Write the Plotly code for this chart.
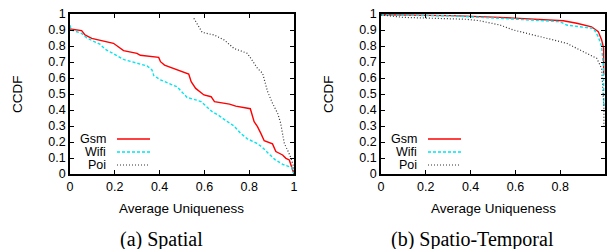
import plotly.graph_objects as go

# ---------------- data ----------------
# (a) Spatial
sp_gsm_x = [0.0, 0.052, 0.067, 0.097, 0.194, 0.217, 0.239, 0.299, 0.314, 0.396, 0.404, 0.422,
            0.530, 0.541, 0.561, 0.598, 0.630, 0.645, 0.712, 0.740, 0.805, 0.822, 0.837, 0.852,
            0.867, 0.904, 0.919, 0.949, 0.964, 0.979, 0.995, 1.0]
sp_gsm_y = [0.906, 0.896, 0.869, 0.848, 0.817, 0.796, 0.771, 0.754, 0.742, 0.729, 0.702, 0.681,
            0.625, 0.577, 0.535, 0.494, 0.483, 0.452, 0.437, 0.424, 0.408, 0.327, 0.296, 0.254,
            0.208, 0.188, 0.140, 0.119, 0.098, 0.088, 0.03, 0.0]
sp_wifi_x = [0.0, 0.005, 0.052, 0.075, 0.135, 0.157, 0.209, 0.239, 0.344, 0.366, 0.374, 0.404,
             0.478, 0.523, 0.565, 0.585, 0.635, 0.665, 0.700, 0.732, 0.762, 0.792, 0.830, 0.856,
             0.885, 0.915, 0.950, 0.990, 1.0]
sp_wifi_y = [0.93, 0.90, 0.879, 0.85, 0.81, 0.78, 0.74, 0.716, 0.675, 0.65, 0.615, 0.588,
             0.545, 0.478, 0.462, 0.452, 0.389, 0.365, 0.330, 0.300, 0.254, 0.220, 0.195, 0.170,
             0.130, 0.090, 0.060, 0.040, 0.0]
sp_poi_x = [0.553, 0.590, 0.643, 0.688, 0.732, 0.792, 0.807, 0.837, 0.860, 0.882, 0.904, 0.927,
            0.940, 0.950, 0.957, 0.971, 0.987, 0.998, 1.0]
sp_poi_y = [0.973, 0.885, 0.869, 0.838, 0.785, 0.754, 0.723, 0.660, 0.629, 0.515, 0.442, 0.379,
            0.320, 0.254, 0.190, 0.150, 0.098, 0.046, 0.0]

# (b) Spatio-Temporal
st_gsm_x = [0.0, 0.10, 0.315, 0.531, 0.700, 0.814, 0.874, 0.940, 0.970, 0.985, 0.994, 0.994]
st_gsm_y = [0.995, 0.993, 0.990, 0.979, 0.968, 0.958, 0.942, 0.920, 0.890, 0.838, 0.785, 0.62]
st_wifi_x = [0.0, 0.323, 0.531, 0.799, 0.829, 0.948, 0.970, 0.985, 0.993, 0.995, 0.995]
st_wifi_y = [0.994, 0.988, 0.973, 0.952, 0.931, 0.910, 0.858, 0.796, 0.670, 0.504, 0.42]
st_poi_x = [0.0, 0.098, 0.382, 0.440, 0.531, 0.591, 0.680, 0.769, 0.829, 0.874, 0.918, 0.963,
            0.985, 0.991, 0.995, 0.995]
st_poi_y = [0.994, 0.979, 0.967, 0.958, 0.931, 0.900, 0.869, 0.838, 0.817, 0.785, 0.754, 0.723,
            0.660, 0.546, 0.42, 0.30]

series_names = ["Gsm", "Wifi", "Poi"]
x_ticks = [0, 0.2, 0.4, 0.6, 0.8, 1]
x_tick_text = ["0", "0.2", "0.4", "0.6", "0.8", "1"]
y_ticks = [0, 0.1, 0.2, 0.3, 0.4, 0.5, 0.6, 0.7, 0.8, 0.9, 1]
y_tick_text = ["0", "0.1", "0.2", "0.3", "0.4", "0.5", "0.6", "0.7", "0.8", "0.9", "1"]
captions = ["(a) Spatial", "(b) Spatio-Temporal"]
x_title = "Average Uniqueness"
y_title = "CCDF"

# ---------------- styling ----------------
W, H = 608, 249
styles = [dict(color="#ff0000", width=1.4, dash="solid"),
          dict(color="#00e5ee", width=1.4, dash="3px,2px"),
          dict(color="#333333", width=1.2, dash="1px,2px")]

left_dom = [70 / W, 294 / W]
right_dom = [381 / W, 605 / W]
y_dom = [1 - 174 / H, 1 - 14 / H]

fig = go.Figure()
panels = [
    ("x", "y", [(sp_gsm_x, sp_gsm_y), (sp_wifi_x, sp_wifi_y), (sp_poi_x, sp_poi_y)]),
    ("x2", "y2", [(st_gsm_x, st_gsm_y), (st_wifi_x, st_wifi_y), (st_poi_x, st_poi_y)]),
]
for xa, ya, data in panels:
    for name, (xs, ys), st in zip(series_names, data, styles):
        fig.add_trace(go.Scatter(x=xs, y=ys, mode="lines", name=name, line=st,
                                 xaxis=xa, yaxis=ya, showlegend=False))

font_sans = "Liberation Sans, Arial, sans-serif"
axis_common = dict(range=[0, 1], showgrid=False, zeroline=False, showline=True,
                   linecolor="black", linewidth=1.5, mirror="ticks", ticks="inside",
                   ticklen=4, tickwidth=1, tickcolor="black", automargin=False,
                   tickfont=dict(family=font_sans, size=12.5, color="black"))

fig.update_layout(
    width=W, height=H, margin=dict(l=0, r=0, t=0, b=0, pad=0),
    paper_bgcolor="white", plot_bgcolor="white", showlegend=False,
    xaxis=dict(domain=left_dom, anchor="y", tickvals=x_ticks, ticktext=x_tick_text, **axis_common),
    yaxis=dict(domain=y_dom, anchor="x", tickvals=y_ticks, ticktext=y_tick_text, **axis_common),
    xaxis2=dict(domain=right_dom, anchor="y2", tickvals=x_ticks, ticktext=x_tick_text, **axis_common),
    yaxis2=dict(domain=y_dom, anchor="x2", tickvals=y_ticks, ticktext=y_tick_text, **axis_common),
)

annotations = []
shapes = []
for dom, cap, cap_x in [(left_dom, captions[0], 161 / W), (right_dom, captions[1], 472 / W)]:
    cx = (dom[0] + dom[1]) / 2
    annotations.append(dict(text=x_title, x=cx, y=1 - 208 / H, xref="paper", yref="paper",
                            showarrow=False, xanchor="center", yanchor="middle",
                            font=dict(family=font_sans, size=13.5, color="black")))
    annotations.append(dict(text=cap, x=cap_x, y=1 - 239 / H, xref="paper", yref="paper",
                            showarrow=False, xanchor="center", yanchor="middle",
                            font=dict(family="Liberation Serif, Times New Roman, serif", size=20, color="black")))
    annotations.append(dict(text=y_title, x=(dom[0] * W - 53) / W, y=1 - 94 / H, xref="paper", yref="paper",
                            showarrow=False, xanchor="center", yanchor="middle", textangle=-90,
                            font=dict(family=font_sans, size=13.5, color="black")))
    # gnuplot-style key (text right-aligned, sample on its right)
    text_right = dom[0] * W + 37
    sample_l = dom[0] * W + 47
    sample_r = sample_l + 33
    for i, (name, st) in enumerate(zip(series_names, styles)):
        yy = 139 + 13 * i
        annotations.append(dict(text=name, x=text_right / W, y=1 - yy / H, xref="paper", yref="paper",
                                showarrow=False, xanchor="right", yanchor="middle", borderpad=0,
                                font=dict(family=font_sans, size=12.5, color="black")))
        shapes.append(dict(type="line", xref="paper", yref="paper",
                           x0=sample_l / W, x1=sample_r / W, y0=1 - yy / H, y1=1 - yy / H,
                           line=dict(color=st["color"], width=st["width"], dash=st["dash"])))

fig.update_layout(annotations=annotations, shapes=shapes)
fig.write_html("out.html", config={"displayModeBar": False},
               post_script="document.body.style.margin='0';document.body.style.overflow='hidden';")
